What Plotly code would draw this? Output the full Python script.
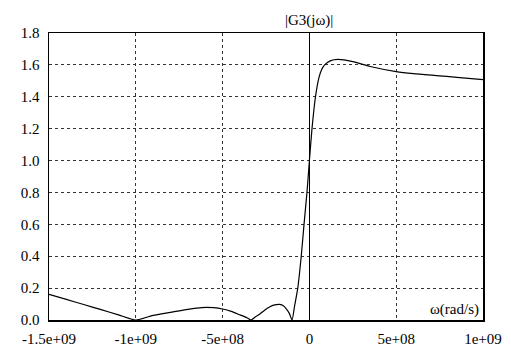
import plotly.graph_objects as go

# angular frequency (rad/s) and magnitude |G3(jw)|
omega = [-1.5e9, -1.4e9, -1.3e9, -1.2e9, -1.1e9, -1.0e9,
         -9e8, -8e8, -7e8, -6.2e8, -5.5e8, -5e8, -4.5e8, -4e8, -3.6e8, -3.36e8,
         -3.1e8, -2.87e8, -2.6e8, -2.3e8, -2.0e8, -1.71e8, -1.5e8, -1.33e8, -1.15e8, -1.0e8,
         -8.5e7, -6.7e7, -4.7e7, -3.1e7, -1.4e7, 0.0, 1.5e7, 3.5e7, 5.5e7, 7.0e7, 8.8e7,
         1.2e8, 1.66e8, 2.5e8, 3.5e8, 5e8, 6e8, 7.3e8, 8.5e8, 1e9]
mag = [0.161, 0.129, 0.097, 0.065, 0.032, 0.0,
       0.029, 0.048, 0.067, 0.078, 0.077, 0.069, 0.054, 0.032, 0.014, 0.0,
       0.02, 0.036, 0.06, 0.082, 0.095, 0.098, 0.09, 0.07, 0.04, 0.0,
       0.09, 0.2, 0.4, 0.6, 0.8, 1.0, 1.2, 1.4, 1.52, 1.57, 1.6,
       1.625, 1.634, 1.62, 1.59, 1.558, 1.545, 1.533, 1.522, 1.508]

x_tickvals = [-1.5e9, -1e9, -5e8, 0, 5e8, 1e9]
x_ticktext = ["-1.5e+09", "-1e+09", "-5e+08", "0", "5e+08", "1e+09"]
y_tickvals = [0.0, 0.2, 0.4, 0.6, 0.8, 1.0, 1.2, 1.4, 1.6, 1.8]

FONT = "Liberation Serif, Times New Roman, serif"

fig = go.Figure()
fig.add_trace(go.Scatter(x=omega, y=mag, mode="lines",
                         line=dict(color="black", width=1.2, shape="spline", smoothing=0.6),
                         showlegend=False, hoverinfo="skip"))

fig.update_layout(
    width=511, height=352,
    margin=dict(l=49, r=28, t=33, b=32),
    paper_bgcolor="white", plot_bgcolor="white",
    font=dict(family=FONT, size=15, color="black"),
    xaxis=dict(range=[-1.5e9, 1e9], tickvals=x_tickvals, ticktext=x_ticktext,
               automargin=False, ticklabelstandoff=4,
               showgrid=True, gridcolor="#333333", griddash="dot", gridwidth=1,
               zeroline=True, zerolinecolor="black", zerolinewidth=1,
               showline=True, linecolor="black", linewidth=1.5, mirror=True,
               ticks="", ticklen=0),
    yaxis=dict(range=[0, 1.8], tickvals=y_tickvals, tickformat=".1f",
               automargin=False, ticklabelstandoff=5,
               showgrid=True, gridcolor="#333333", griddash="dot", gridwidth=1,
               zeroline=False,
               showline=True, linecolor="black", linewidth=1.5, mirror=True,
               ticks="", ticklen=0),
    annotations=[
        dict(x=0, y=1.0, xref="x", yref="paper", text="|G3(jω)|", showarrow=False,
             xanchor="center", yanchor="bottom", yshift=2),
        dict(x=1.0, y=0.0, xref="paper", yref="paper", text="ω(rad/s)", showarrow=False,
             xanchor="right", yanchor="bottom", xshift=-2, yshift=0),
    ],
)

fig.write_html(
    "out.html",
    config={"displayModeBar": False, "staticPlot": True},
    post_script="document.body.style.margin='0px';",
)
